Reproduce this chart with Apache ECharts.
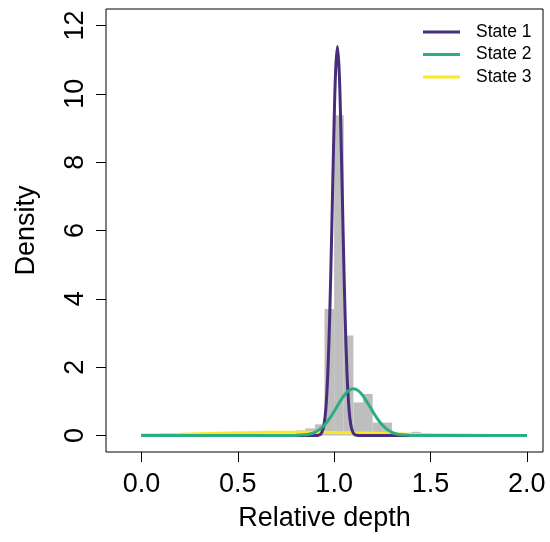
<!DOCTYPE html>
<html>
<head>
<meta charset="utf-8">
<script src="https://cdn.jsdelivr.net/npm/echarts@6/dist/echarts.min.js"></script>
<style>html,body{margin:0;padding:0;background:#fff}#c{width:550px;height:542px}</style>
</head>
<body>
<div id="c"></div>
<script>
// Histogram (bin start, bin end, density)
const binStart  = [0.70, 0.75, 0.80, 0.85, 0.90, 0.95, 1.00, 1.05, 1.10, 1.15, 1.20, 1.25, 1.30, 1.35, 1.40];
const binEnd    = [0.75, 0.80, 0.85, 0.90, 0.95, 1.00, 1.05, 1.10, 1.15, 1.20, 1.25, 1.30, 1.35, 1.40, 1.45];
const binHeight = [0.03, 0.05, 0.15, 0.21, 0.33, 3.70, 9.37, 2.93, 0.97, 1.22, 0.38, 0.38, 0.05, 0.04, 0.11];

// State 1 density curve
const s1X = [0, 0.85, 0.897, 0.907, 0.917, 0.927, 0.937, 0.947, 0.957, 0.967, 0.977, 0.987, 0.997, 1.007, 1.017, 1.027, 1.037, 1.047, 1.057, 1.067, 1.077, 1.087, 1.097, 1.107, 1.117, 1.137, 1.2, 2.0];
const s1Y = [0, 0, 0, 0.001, 0.007, 0.028, 0.10, 0.30, 0.79, 1.79, 3.49, 5.85, 8.46, 10.57, 11.38, 10.57, 8.46, 5.85, 3.49, 1.79, 0.79, 0.30, 0.10, 0.028, 0.007, 0.001, 0, 0];

// State 2 density curve
const s2X = [0, 0.70, 0.75, 0.80, 0.85, 0.875, 0.90, 0.925, 0.95, 0.975, 1.00, 1.025, 1.05, 1.075, 1.10, 1.125, 1.15, 1.175, 1.20, 1.225, 1.25, 1.275, 1.30, 1.325, 1.35, 1.40, 1.45, 1.50, 2.0];
const s2Y = [0, 0, 0.0003, 0.0036, 0.022, 0.048, 0.097, 0.181, 0.310, 0.488, 0.708, 0.945, 1.16, 1.315, 1.37, 1.315, 1.16, 0.945, 0.708, 0.488, 0.310, 0.181, 0.097, 0.048, 0.022, 0.0036, 0.0003, 0, 0];

// State 3 density curve
const s3X = [0, 0.1, 0.2, 0.3, 0.4, 0.5, 0.6, 0.7, 0.8, 0.9, 1.0, 1.1, 1.2, 1.3, 1.4, 1.5, 1.6, 1.7, 1.8, 1.9, 2.0];
const s3Y = [0.021, 0.030, 0.041, 0.054, 0.067, 0.080, 0.091, 0.098, 0.100, 0.098, 0.091, 0.080, 0.067, 0.054, 0.041, 0.030, 0.021, 0.014, 0.008, 0.005, 0.003];

const seriesNames = ['State 1', 'State 2', 'State 3'];
const xTicks = [0, 0.5, 1, 1.5, 2];
const yTicks = [0, 2, 4, 6, 8, 10, 12];

const FONT = '"Liberation Sans", Arial, Helvetica, sans-serif';
const pairs = (xs, ys) => xs.map((x, i) => [x, ys[i]]);

const chart = echarts.init(document.getElementById('c'), null, {renderer: 'canvas'});
chart.setOption({
  animation: false,
  backgroundColor: '#ffffff',
  textStyle: {fontFamily: FONT},
  grid: {left: 106, right: 7, top: 9, bottom: 90, show: true, borderColor: '#000', borderWidth: 1, containLabel: false, outerBoundsMode: 'none'},
  legend: {
    data: seriesNames,
    orient: 'vertical',
    left: 423, top: 23,
    icon: 'rect', itemWidth: 37, itemHeight: 3, itemGap: 4.5,
    padding: 0,
    textStyle: {fontFamily: FONT, fontSize: 17.5, color: '#000', padding: [0, 0, 0, 11]}
  },
  xAxis: {
    type: 'value', min: -0.184, max: 2.084,
    name: 'Relative depth', nameLocation: 'middle', nameGap: 53,
    nameTextStyle: {fontFamily: FONT, fontSize: 27, color: '#000'},
    axisLine: {show: false, onZero: false},
    axisTick: {show: true, length: 10, lineStyle: {color: '#000', width: 1}, customValues: xTicks},
    axisLabel: {fontFamily: FONT, fontSize: 27, color: '#000', margin: 19, customValues: xTicks, formatter: v => v.toFixed(1)},
    splitLine: {show: false}
  },
  yAxis: {
    type: 'value', min: -0.48, max: 12.48,
    name: 'Density', nameLocation: 'middle', nameGap: 66, nameRotate: 90,
    nameTextStyle: {fontFamily: FONT, fontSize: 27, color: '#000'},
    axisLine: {show: false, onZero: false},
    axisTick: {show: true, length: 10, lineStyle: {color: '#000', width: 1}, customValues: yTicks},
    axisLabel: {fontFamily: FONT, fontSize: 27, color: '#000', margin: 17, rotate: 90, customValues: yTicks},
    splitLine: {show: false}
  },
  series: [
    {
      type: 'custom', name: 'hist', z: 1, silent: true,
      data: binStart.map((s, i) => [s, binHeight[i], binEnd[i]]),
      encode: {x: [0, 2], y: 1},
      renderItem: function (params, api) {
        const p0 = api.coord([api.value(0), api.value(1)]);
        const p1 = api.coord([api.value(2), 0]);
        return {type: 'rect', shape: {x: p0[0], y: p0[1], width: p1[0] - p0[0], height: p1[1] - p0[1]}, style: {fill: '#BEBEBE'}};
      }
    },
    {type: 'line', name: 'State 1', data: pairs(s1X, s1Y), showSymbol: false, smooth: 0.3, z: 3, color: '#472D7B', lineStyle: {width: 3, color: '#472D7B'}},
    {type: 'line', name: 'State 2', data: pairs(s2X, s2Y), showSymbol: false, smooth: 0.3, z: 4, color: '#29AF7F', lineStyle: {width: 3, color: '#29AF7F'}},
    {type: 'line', name: 'State 3', data: pairs(s3X, s3Y), showSymbol: false, smooth: 0.3, z: 2, color: '#FDE725', lineStyle: {width: 3, color: '#FDE725'}}
  ]
});
</script>
</body>
</html>
